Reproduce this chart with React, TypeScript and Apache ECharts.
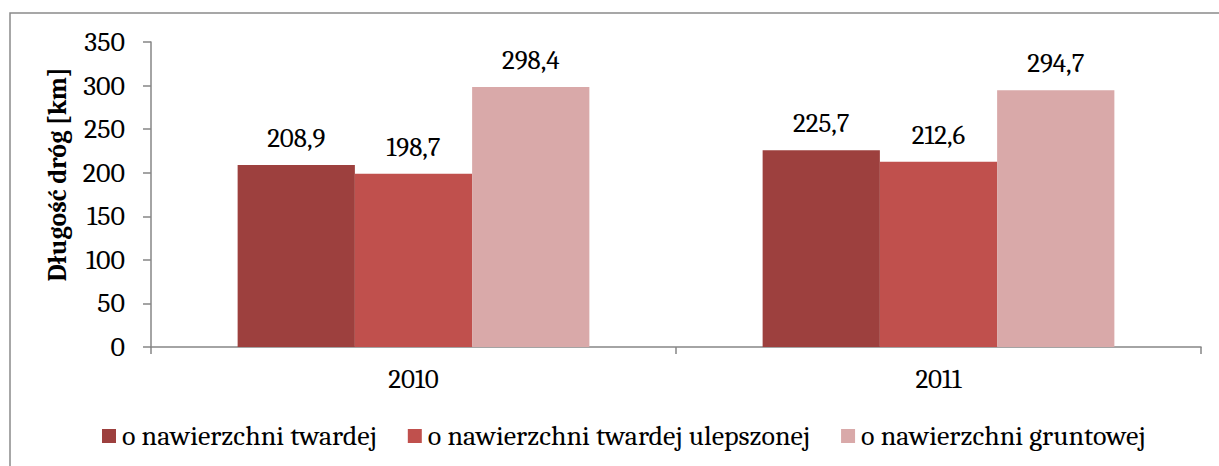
import React, { useEffect, useRef } from "react";
import * as echarts from "echarts";

const categories = ["2010", "2011"];
const seriesNames = [
  "o nawierzchni twardej",
  "o nawierzchni twardej ulepszonej",
  "o nawierzchni gruntowej",
];
const hardValues = [208.9, 225.7];
const improvedValues = [198.7, 212.6];
const dirtValues = [298.4, 294.7];
const colors = ["#9D403E", "#C0504D", "#D9A9A9"];
const yTitle = "Długość dróg [km]";

const FONT = "Cambria";

export default function App() {
  const ref = useRef<HTMLDivElement>(null);
  useEffect(() => {
    document.body.style.margin = "0";
    const chart = echarts.init(ref.current!, null, { renderer: "svg" });
    const values = [hardValues, improvedValues, dirtValues];
    chart.setOption({
      animation: false,
      backgroundColor: "#ffffff",
      textStyle: { fontFamily: FONT },
      graphic: [
        {
          type: "rect",
          shape: { x: 10, y: 13, width: 1220, height: 460 },
          style: { fill: "none", stroke: "#8a8a8a", lineWidth: 1.5 },
          silent: true,
        },
      ],
      grid: { left: 151, right: 18, top: 42, bottom: 119 },
      legend: {
        left: 102,
        top: 422,
        padding: 0,
        itemWidth: 14,
        itemHeight: 14,
        itemGap: 31,
        icon: "rect",
        textStyle: {
          fontFamily: FONT,
          fontSize: 28,
          color: "#000",
          padding: [0, 0, 0, 1],
        },
        data: seriesNames,
      },
      xAxis: {
        type: "category",
        data: categories,
        axisLine: { lineStyle: { color: "#868686", width: 1.5 } },
        axisTick: { show: true, length: 7, lineStyle: { color: "#868686", width: 1.5 } },
        axisLabel: { fontFamily: FONT, fontSize: 27, color: "#000", margin: 19 },
      },
      yAxis: {
        type: "value",
        min: 0,
        max: 350,
        interval: 50,
        name: yTitle,
        nameLocation: "middle",
        nameGap: 80,
        nameRotate: 90,
        nameTextStyle: {
          fontFamily: FONT,
          fontSize: 26,
          fontWeight: "bold",
          color: "#000",
          padding: [0, 0, 0, 40],
        },
        splitLine: { show: false },
        axisLine: { show: true, lineStyle: { color: "#868686", width: 1.5 } },
        axisTick: { show: true, length: 8, lineStyle: { color: "#868686", width: 1.5 } },
        axisLabel: { fontFamily: FONT, fontSize: 28, color: "#000", margin: 26 },
      },
      series: seriesNames.map((name, i) => ({
        name,
        type: "bar",
        data: values[i],
        barGap: "0%",
        barCategoryGap: "33%",
        itemStyle: { color: colors[i] },
        label: {
          show: true,
          position: "top",
          distance: 13,
          fontFamily: FONT,
          fontSize: 27,
          color: "#000",
          formatter: (p: any) => String(p.value).replace(".", ","),
        },
      })),
    });
    return () => chart.dispose();
  }, []);
  return <div ref={ref} style={{ width: 1219, height: 466 }} />;
}
